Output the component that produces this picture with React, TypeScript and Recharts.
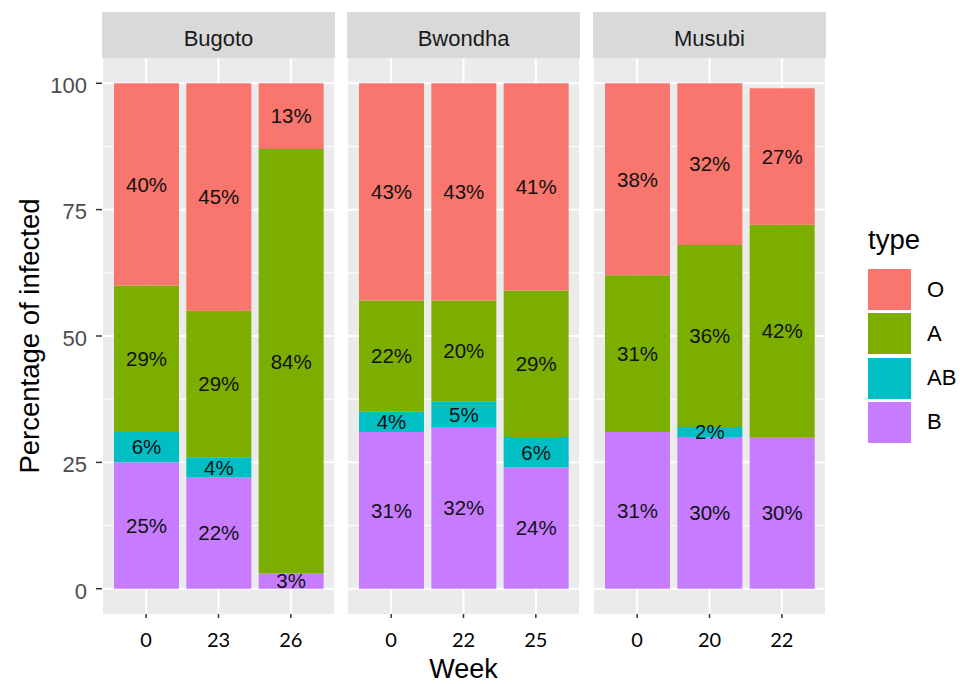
import React from 'react';
import { BarChart, Bar, XAxis, YAxis, CartesianGrid, LabelList } from 'recharts';

const sites = ['Bugoto', 'Bwondha', 'Musubi'];
const weeks = [
  ['0', '23', '26'],
  ['0', '22', '25'],
  ['0', '20', '22'],
];
const typeNames = ['O', 'A', 'AB', 'B'];
const typeColors = ['#F8766D', '#7CAE00', '#00BFC4', '#C77CFF'];
const pctO = [[40, 45, 13], [43, 43, 41], [38, 32, 27]];
const pctA = [[29, 29, 84], [22, 20, 29], [31, 36, 42]];
const pctAB = [[6, 4, 0], [4, 5, 6], [0, 2, 0]];
const pctB = [[25, 22, 3], [31, 32, 24], [31, 30, 30]];
const yTicks = [0, 25, 50, 75, 100];
const yMinor = [12.5, 37.5, 62.5, 87.5];

const seriesValues: Record<string, number[][]> = { O: pctO, A: pctA, AB: pctAB, B: pctB };

const FONT = '"Liberation Sans", Arial, sans-serif';
const PANEL_LEFT = [102, 347, 593];
const PANEL_W = 233;
const PANEL_TOP = 58;
const PANEL_H = 556;
const AXIS_W = 102;
const XAXIS_H = 70;
const STRIP_TOP = 12;
const STRIP_H = 46;

function panelData(i: number) {
  return weeks[i].map((w, j) => {
    const row: Record<string, string | number> = { week: w };
    typeNames.forEach((t) => {
      row[t] = seriesValues[t][i][j];
    });
    return row;
  });
}

const fmt = (v: any) => (Number(v) > 0 ? `${v}%` : '');

function Panel({ i }: { i: number }) {
  const first = i === 0;
  const width = first ? AXIS_W + PANEL_W : PANEL_W;
  const left = first ? 0 : PANEL_LEFT[i];
  const stackOrder = ['B', 'AB', 'A', 'O'];
  return (
    <div style={{ position: 'absolute', left, top: PANEL_TOP }}>
      <BarChart
        width={width}
        height={PANEL_H + XAXIS_H}
        data={panelData(i)}
        margin={{ top: 0, right: 0, bottom: 0, left: 0 }}
        barSize={65}
      >
        <CartesianGrid
          fill="#EBEBEB"
          stroke="#FFFFFF"
          strokeWidth={2}
          horizontalValues={yTicks}
          strokeDasharray=""
        />
        <CartesianGrid
          stroke="#FFFFFF"
          strokeWidth={1}
          vertical={false}
          horizontalValues={yMinor}
        />
        <XAxis
          dataKey="week"
          type="category"
          padding={{ left: 8, right: 8 }}
          height={XAXIS_H}
          axisLine={false}
          tickSize={4}
          tickMargin={15}
          tickLine={{ stroke: '#333333', strokeWidth: 1.5 }}
          tick={{ fill: '#000000', fontSize: 20, fontFamily: 'Lato, "Open Sans", sans-serif' }}
          label={
            i === 1
              ? {
                  value: 'Week',
                  position: 'insideBottom',
                  offset: 6,
                  style: { fontSize: 27, fill: '#000000', fontFamily: FONT },
                }
              : undefined
          }
        />
        {first ? (
          <YAxis
            type="number"
            domain={[-5, 105]}
            ticks={yTicks}
            width={AXIS_W}
            axisLine={false}
            tickSize={6}
            tickMargin={9}
            tickLine={{ stroke: '#333333', strokeWidth: 1.5 }}
            tick={{ fill: '#4D4D4D', fontSize: 22, fontFamily: FONT, dy: 2 }}
            label={{
              value: 'Percentage of infected',
              angle: -90,
              position: 'insideLeft',
              offset: 29,
              style: { textAnchor: 'middle', fontSize: 27.5, fill: '#000000', fontFamily: FONT },
            }}
          />
        ) : (
          <YAxis type="number" domain={[-5, 105]} ticks={yTicks} hide />
        )}
        {stackOrder.map((t) => (
          <Bar
            key={t}
            dataKey={t}
            stackId="s"
            fill={typeColors[typeNames.indexOf(t)]}
            isAnimationActive={false}
          >
            <LabelList
              dataKey={t}
              position="center"
              formatter={fmt}
              fill="#111111"
              fontSize={20.5}
              fontFamily={FONT}
            />
          </Bar>
        ))}
      </BarChart>
    </div>
  );
}

export default function App() {
  return (
    <div
      style={{
        position: 'absolute',
        left: 0,
        top: 0,
        width: 960,
        height: 684,
        background: '#FFFFFF',
        fontFamily: FONT,
        overflow: 'hidden',
      }}
    >
      {sites.map((s, i) => (
        <div
          key={s}
          style={{
            position: 'absolute',
            left: PANEL_LEFT[i],
            top: STRIP_TOP,
            width: PANEL_W,
            height: STRIP_H,
            boxSizing: 'border-box',
            paddingTop: 8,
            lineHeight: '37px',
            background: '#D9D9D9',
            color: '#1A1A1A',
            fontSize: 22,
            textAlign: 'center',
          }}
        >
          {s}
        </div>
      ))}
      {sites.map((s, i) => (
        <Panel key={s} i={i} />
      ))}
      <div style={{ position: 'absolute', left: 868, top: 224, fontSize: 27.5, color: '#000000', lineHeight: '32px' }}>
        type
      </div>
      {typeNames.map((t, k) => (
        <div key={t} style={{ position: 'absolute', left: 868, top: 269 + k * 44.3, height: 41, display: 'flex', alignItems: 'center' }}>
          <div style={{ width: 43, height: 41, background: typeColors[k] }} />
          <div style={{ marginLeft: 16, fontSize: 22, color: '#000000' }}>{t}</div>
        </div>
      ))}
    </div>
  );
}
